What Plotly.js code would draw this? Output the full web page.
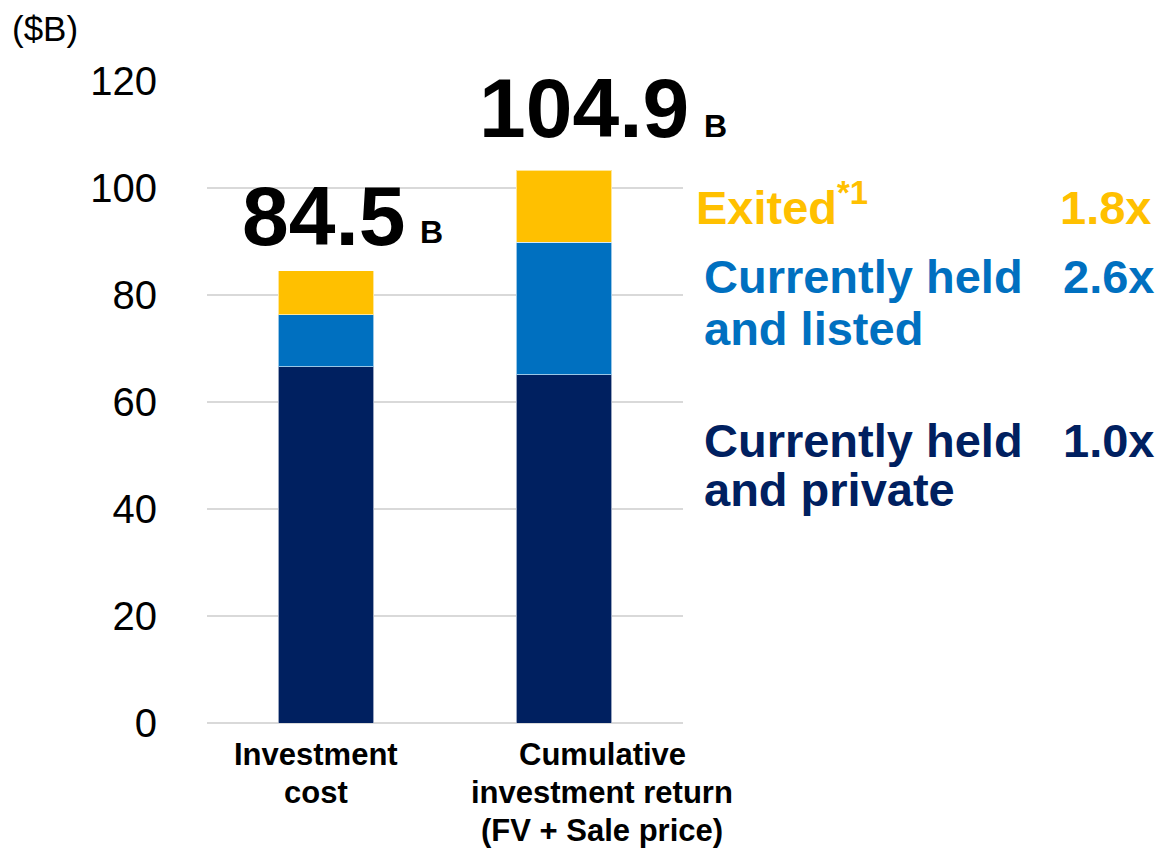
<!DOCTYPE html>
<html>
<head>
<meta charset="utf-8">
<script src="https://cdn.plot.ly/plotly-3.0.1.min.js"></script>
<style>
html,body{margin:0;padding:0;background:#fff;}
#chart{width:1162px;height:848px;}
</style>
</head>
<body>
<div id="chart"></div>
<script>
// ---- Data ----
const categories = ["Investment cost", "Cumulative investment return (FV + Sale price)"];
const categoryLabelLines = [["Investment", "cost"], ["Cumulative", "investment return", "(FV + Sale price)"]];
const privateVals = [66.6, 65.1];
const listedVals = [9.7, 24.8];
const exitedVals = [8.2, 13.4];
const totalLabels = ["84.5", "104.9"];
const totalUnit = "B";
const seriesLines = [["Exited<sup>*1</sup>"], ["Currently held", "and listed"], ["Currently held", "and private"]];
const multiples = ["1.8x", "2.6x", "1.0x"];
const yTicks = [0, 20, 40, 60, 80, 100, 120];
const unitLabel = "($B)";

// ---- Style ----
const NAVY = "#002060", BLUE = "#0070C0", GOLD = "#FFC000";
const FONT = "Liberation Sans, Arial, sans-serif";
const M = {l: 207, r: 479, t: 81, b: 125};
const W = 1162, H = 848;
const plotW = W - M.l - M.r, plotH = H - M.t - M.b;
const pxX = px => (px - M.l) / plotW;
// paper y for the bottom of an annotation whose text baseline sits at pixel py
const pyBase = (py, f) => (H - M.b - (py + 0.22 * f)) / plotH;

const lineStyle = {color: "rgba(255,255,255,0.6)", width: 1};
const traces = [
  {type: "bar", x: categories, y: privateVals, marker: {color: NAVY, line: lineStyle}, width: 0.4, hoverinfo: "skip"},
  {type: "bar", x: categories, y: listedVals, marker: {color: BLUE, line: lineStyle}, width: 0.4, hoverinfo: "skip"},
  {type: "bar", x: categories, y: exitedVals, marker: {color: GOLD, line: lineStyle}, width: 0.4, hoverinfo: "skip"}
];

const totals = categories.map((c, i) => privateVals[i] + listedVals[i] + exitedVals[i]);
const annotations = [];

// Totals above bars
const numShift = [[-2, 6], [20, 13]];
const bShift = [[92, 19], [138, 24]];
totals.forEach((t, i) => {
  annotations.push({x: categories[i], y: t, xref: "x", yref: "y", text: "<b>" + totalLabels[i] + "</b>",
    showarrow: false, xanchor: "center", yanchor: "bottom", xshift: numShift[i][0], yshift: numShift[i][1],
    font: {family: FONT, size: 84, color: "#000"}});
  annotations.push({x: categories[i], y: t, xref: "x", yref: "y", text: "<b>" + totalUnit + "</b>",
    showarrow: false, xanchor: "left", yanchor: "bottom", xshift: bShift[i][0], yshift: bShift[i][1],
    font: {family: FONT, size: 32, color: "#000"}});
});

// Category labels under bars
const catFont = 31;
const catXShift = [-10, 38];
const catBaselines = [767, 805, 843];
categoryLabelLines.forEach((lines, i) => {
  lines.forEach((ln, j) => {
    annotations.push({x: categories[i], y: 0, xref: "x", yref: "y", text: "<b>" + ln + "</b>",
      showarrow: false, xanchor: "center", yanchor: "bottom", xshift: catXShift[i],
      yshift: (H - M.b) - (catBaselines[j] + 0.22 * catFont),
      font: {family: FONT, size: catFont, color: "#000"}});
  });
});

// Right-side legend text
const legFont = 47;
const legendColors = [GOLD, BLUE, NAVY];
const legendBaselines = [[226], [295, 347], [459, 508]];
const legendLeft = [694, 702, 702];
const multRight = [1153, 1156, 1156];
seriesLines.forEach((lines, i) => {
  lines.forEach((ln, j) => {
    annotations.push({x: pxX(legendLeft[i]), y: pyBase(legendBaselines[i][j], legFont), xref: "paper", yref: "paper",
      text: "<b>" + ln + "</b>", showarrow: false, xanchor: "left", yanchor: "bottom",
      font: {family: FONT, size: legFont, color: legendColors[i]}});
  });
  annotations.push({x: pxX(multRight[i]), y: pyBase(legendBaselines[i][0], legFont), xref: "paper", yref: "paper",
    text: "<b>" + multiples[i] + "</b>", showarrow: false, xanchor: "right", yanchor: "bottom",
    font: {family: FONT, size: legFont, color: legendColors[i]}});
});

// Unit label
annotations.push({x: pxX(10), y: pyBase(42, 35), xref: "paper", yref: "paper", xanchor: "left", yanchor: "bottom",
  text: unitLabel, showarrow: false, font: {family: FONT, size: 35, color: "#000"}});

const layout = {
  width: W, height: H,
  margin: M,
  barmode: "stack",
  showlegend: false,
  paper_bgcolor: "#fff", plot_bgcolor: "#fff",
  font: {family: FONT, color: "#000"},
  xaxis: {type: "category", range: [-0.5, 1.5], showgrid: false, zeroline: false,
    showline: false, ticks: "", showticklabels: false},
  yaxis: {range: [0, 120], tickvals: yTicks, showgrid: true, gridcolor: "#D9D9D9", gridwidth: 2,
    zeroline: true, zerolinecolor: "#D9D9D9", zerolinewidth: 2, showline: false, ticks: "",
    tickfont: {family: FONT, size: 40, color: "#000"}, ticklabelstandoff: 49},
  annotations: annotations
};

Plotly.newPlot("chart", traces, layout, {displayModeBar: false, staticPlot: true});
</script>
</body>
</html>
